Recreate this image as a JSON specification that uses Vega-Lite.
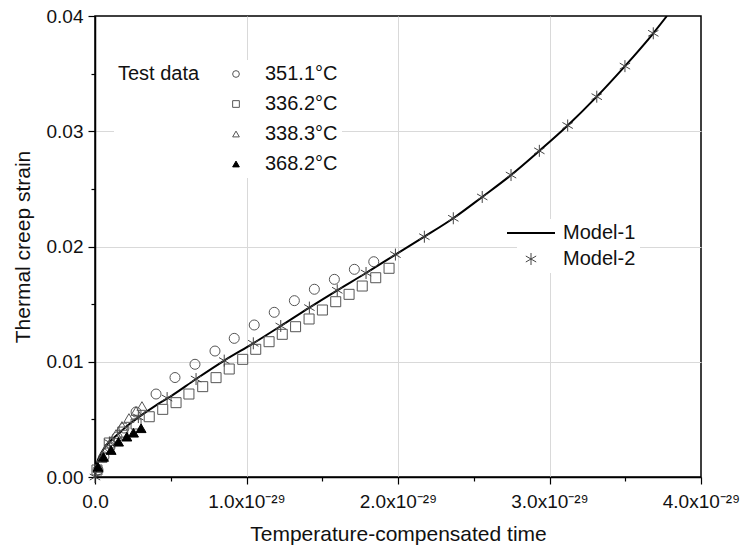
{
  "$schema": "https://vega.github.io/schema/vega-lite/v6.json",
  "width": 606,
  "height": 461,
  "autosize": {"type": "none"},
  "padding": {"left": 95, "top": 16, "right": 44, "bottom": 77},
  "background": "white",
  "config": {
    "font": "Liberation Sans",
    "view": {"stroke": "black", "strokeWidth": 1.5},
    "axis": {
      "domainColor": "black",
      "domainWidth": 1.5,
      "tickColor": "black",
      "tickWidth": 1.2,
      "labelFont": "Liberation Sans",
      "labelFontSize": 19,
      "labelColor": "#111",
      "titleFont": "Liberation Sans",
      "titleFontSize": 21,
      "titleFontWeight": "normal",
      "titleColor": "#111",
      "gridColor": "#d9d9d9",
      "gridWidth": 1,
      "labelFlush": false,
      "labelOverlap": false
    }
  },
  "datasets": {
    "model1": [
      {"x": 0, "y": 0},
      {"x": 0.005e-29, "y": 0.0007},
      {"x": 0.015e-29, "y": 0.0013},
      {"x": 0.03e-29, "y": 0.0018},
      {"x": 0.06e-29, "y": 0.0025},
      {"x": 0.1e-29, "y": 0.0031},
      {"x": 0.15e-29, "y": 0.0037},
      {"x": 0.2e-29, "y": 0.0043},
      {"x": 0.3e-29, "y": 0.0053},
      {"x": 0.4e-29, "y": 0.0062},
      {"x": 0.5e-29, "y": 0.0070},
      {"x": 0.667e-29, "y": 0.0085},
      {"x": 0.853e-29, "y": 0.0101},
      {"x": 1.045e-29, "y": 0.0116},
      {"x": 1.226e-29, "y": 0.0131},
      {"x": 1.415e-29, "y": 0.0147},
      {"x": 1.599e-29, "y": 0.0162},
      {"x": 1.789e-29, "y": 0.0177},
      {"x": 1.983e-29, "y": 0.0193},
      {"x": 2.174e-29, "y": 0.02085},
      {"x": 2.365e-29, "y": 0.02245},
      {"x": 2.556e-29, "y": 0.0243},
      {"x": 2.746e-29, "y": 0.0262},
      {"x": 2.933e-29, "y": 0.0283},
      {"x": 3.120e-29, "y": 0.0305},
      {"x": 3.312e-29, "y": 0.0330},
      {"x": 3.498e-29, "y": 0.03565},
      {"x": 3.685e-29, "y": 0.0385},
      {"x": 3.775e-29, "y": 0.0400}
    ],
    "model2": [
      {"model": "Model-2", "x": 0, "y": 0},
      {"model": "Model-2", "x": 0.095e-29, "y": 0.0030},
      {"model": "Model-2", "x": 0.286e-29, "y": 0.0052},
      {"model": "Model-2", "x": 0.476e-29, "y": 0.00685},
      {"model": "Model-2", "x": 0.667e-29, "y": 0.0085},
      {"model": "Model-2", "x": 0.853e-29, "y": 0.0101},
      {"model": "Model-2", "x": 1.045e-29, "y": 0.0116},
      {"model": "Model-2", "x": 1.226e-29, "y": 0.0131},
      {"model": "Model-2", "x": 1.415e-29, "y": 0.0147},
      {"model": "Model-2", "x": 1.599e-29, "y": 0.0162},
      {"model": "Model-2", "x": 1.789e-29, "y": 0.0177},
      {"model": "Model-2", "x": 1.983e-29, "y": 0.0193},
      {"model": "Model-2", "x": 2.174e-29, "y": 0.02085},
      {"model": "Model-2", "x": 2.365e-29, "y": 0.02245},
      {"model": "Model-2", "x": 2.556e-29, "y": 0.0243},
      {"model": "Model-2", "x": 2.746e-29, "y": 0.0262},
      {"model": "Model-2", "x": 2.933e-29, "y": 0.0283},
      {"model": "Model-2", "x": 3.120e-29, "y": 0.0305},
      {"model": "Model-2", "x": 3.312e-29, "y": 0.0330},
      {"model": "Model-2", "x": 3.498e-29, "y": 0.03565},
      {"model": "Model-2", "x": 3.685e-29, "y": 0.0385}
    ],
    "test": [
      {"series": "351.1°C", "x": 0.020e-29, "y": 0.00061},
      {"series": "351.1°C", "x": 0.059e-29, "y": 0.00174},
      {"series": "351.1°C", "x": 0.099e-29, "y": 0.00260},
      {"series": "351.1°C", "x": 0.145e-29, "y": 0.00347},
      {"series": "351.1°C", "x": 0.191e-29, "y": 0.00425},
      {"series": "351.1°C", "x": 0.271e-29, "y": 0.00564},
      {"series": "351.1°C", "x": 0.403e-29, "y": 0.00720},
      {"series": "351.1°C", "x": 0.528e-29, "y": 0.00863},
      {"series": "351.1°C", "x": 0.660e-29, "y": 0.00978},
      {"series": "351.1°C", "x": 0.792e-29, "y": 0.01093},
      {"series": "351.1°C", "x": 0.919e-29, "y": 0.01203},
      {"series": "351.1°C", "x": 1.051e-29, "y": 0.01319},
      {"series": "351.1°C", "x": 1.183e-29, "y": 0.01429},
      {"series": "351.1°C", "x": 1.316e-29, "y": 0.01530},
      {"series": "351.1°C", "x": 1.448e-29, "y": 0.01629},
      {"series": "351.1°C", "x": 1.580e-29, "y": 0.01715},
      {"series": "351.1°C", "x": 1.712e-29, "y": 0.01802},
      {"series": "351.1°C", "x": 1.840e-29, "y": 0.01868},
      {"series": "336.2°C", "x": 0.013e-29, "y": 0.00061},
      {"series": "336.2°C", "x": 0.094e-29, "y": 0.00295},
      {"series": "336.2°C", "x": 0.183e-29, "y": 0.00390},
      {"series": "336.2°C", "x": 0.271e-29, "y": 0.00460},
      {"series": "336.2°C", "x": 0.358e-29, "y": 0.00523},
      {"series": "336.2°C", "x": 0.447e-29, "y": 0.00587},
      {"series": "336.2°C", "x": 0.535e-29, "y": 0.00645},
      {"series": "336.2°C", "x": 0.620e-29, "y": 0.00720},
      {"series": "336.2°C", "x": 0.711e-29, "y": 0.00784},
      {"series": "336.2°C", "x": 0.799e-29, "y": 0.00862},
      {"series": "336.2°C", "x": 0.886e-29, "y": 0.00937},
      {"series": "336.2°C", "x": 0.975e-29, "y": 0.01021},
      {"series": "336.2°C", "x": 1.061e-29, "y": 0.01108},
      {"series": "336.2°C", "x": 1.149e-29, "y": 0.01174},
      {"series": "336.2°C", "x": 1.236e-29, "y": 0.01238},
      {"series": "336.2°C", "x": 1.324e-29, "y": 0.01304},
      {"series": "336.2°C", "x": 1.413e-29, "y": 0.01371},
      {"series": "336.2°C", "x": 1.501e-29, "y": 0.01449},
      {"series": "336.2°C", "x": 1.589e-29, "y": 0.01521},
      {"series": "336.2°C", "x": 1.677e-29, "y": 0.01585},
      {"series": "336.2°C", "x": 1.764e-29, "y": 0.01657},
      {"series": "336.2°C", "x": 1.853e-29, "y": 0.01729},
      {"series": "336.2°C", "x": 1.941e-29, "y": 0.01811},
      {"series": "338.3°C", "x": 0.020e-29, "y": 0.00078},
      {"series": "338.3°C", "x": 0.046e-29, "y": 0.00165},
      {"series": "338.3°C", "x": 0.073e-29, "y": 0.00243},
      {"series": "338.3°C", "x": 0.106e-29, "y": 0.00312},
      {"series": "338.3°C", "x": 0.139e-29, "y": 0.00373},
      {"series": "338.3°C", "x": 0.178e-29, "y": 0.00443},
      {"series": "338.3°C", "x": 0.224e-29, "y": 0.00512},
      {"series": "338.3°C", "x": 0.271e-29, "y": 0.00573},
      {"series": "338.3°C", "x": 0.310e-29, "y": 0.00616},
      {"series": "368.2°C", "x": 0.020e-29, "y": 0.00087},
      {"series": "368.2°C", "x": 0.056e-29, "y": 0.00174},
      {"series": "368.2°C", "x": 0.106e-29, "y": 0.00234},
      {"series": "368.2°C", "x": 0.155e-29, "y": 0.00306},
      {"series": "368.2°C", "x": 0.210e-29, "y": 0.00350},
      {"series": "368.2°C", "x": 0.254e-29, "y": 0.00384},
      {"series": "368.2°C", "x": 0.304e-29, "y": 0.00423}
    ]
  },
  "encoding": {
    "x": {
      "field": "x",
      "type": "quantitative",
      "scale": {"domain": [0, 4e-29], "nice": false, "zero": false},
      "axis": {
        "title": "Temperature-compensated time",
        "values": [0, 0.5e-29, 1e-29, 1.5e-29, 2e-29, 2.5e-29, 3e-29, 3.5e-29, 4e-29],
        "labelExpr": "round(datum.value*2e29) % 2 == 1 ? '' : (datum.value == 0 ? '0.0' : format(datum.value*1e29, '.1f') + 'x10⁻²⁹')",
        "tickSize": {"condition": {"test": "round(datum.value*2e29) % 2 == 1", "value": 4}, "value": 7},
        "grid": true,
        "gridOpacity": {"condition": {"test": "round(datum.value*2e29) % 2 == 1 || datum.value == 0 || datum.value > 3.9e-29", "value": 0}, "value": 1},
        "labelPadding": 8,
        "titlePadding": 12
      }
    },
    "y": {
      "field": "y",
      "type": "quantitative",
      "scale": {"domain": [0, 0.04], "nice": false},
      "axis": {
        "title": "Thermal creep strain",
        "values": [0, 0.005, 0.01, 0.015, 0.02, 0.025, 0.03, 0.035, 0.04],
        "labelExpr": "round(datum.value*200) % 2 == 1 ? '' : format(datum.value, '.2f')",
        "tickSize": {"condition": {"test": "round(datum.value*200) % 2 == 1", "value": 4}, "value": 7},
        "grid": true,
        "gridOpacity": {"condition": {"test": "round(datum.value*200) % 2 == 1 || datum.value == 0 || datum.value > 0.039", "value": 0}, "value": 1},
        "labelPadding": 5,
        "titlePadding": 13
      }
    }
  },
  "layer": [
    {
      "data": {"name": "model1"},
      "mark": {"type": "line", "color": "black", "strokeWidth": 2, "interpolate": "monotone", "clip": true}
    },
    {
      "data": {"name": "test"},
      "mark": {"type": "point", "filled": true, "opacity": 1, "size": 100, "strokeWidth": 1},
      "encoding": {
        "shape": {
          "field": "series", "type": "nominal",
          "scale": {"domain": ["351.1°C", "336.2°C", "338.3°C", "368.2°C"], "range": ["circle", "square", "triangle-up", "triangle-up"]},
          "legend": {"orient": "none", "legendX": 19, "legendY": 44, "title": "Test data", "titleOrient": "left", "titleAnchor": "start", "titleBaseline": "top", "titleFontSize": 20, "titleFontWeight": "normal", "titleColor": "#111", "titlePadding": 26, "labelFontSize": 20, "labelColor": "#111", "labelOffset": 19, "symbolSize": 45, "symbolStrokeWidth": 1, "rowPadding": 10, "fillColor": "white", "padding": 4}
        },
        "fill": {
          "field": "series", "type": "nominal",
          "scale": {"domain": ["351.1°C", "336.2°C", "338.3°C", "368.2°C"], "range": ["transparent", "transparent", "transparent", "black"]},
          "legend": {"orient": "none", "legendX": 19, "legendY": 44, "title": "Test data", "titleOrient": "left", "titleAnchor": "start", "titleBaseline": "top", "titleFontSize": 20, "titleFontWeight": "normal", "titleColor": "#111", "titlePadding": 26, "labelFontSize": 20, "labelColor": "#111", "labelOffset": 19, "symbolSize": 45, "symbolStrokeWidth": 1, "rowPadding": 10, "fillColor": "white", "padding": 4}
        },
        "stroke": {
          "field": "series", "type": "nominal",
          "scale": {"domain": ["351.1°C", "336.2°C", "338.3°C", "368.2°C"], "range": ["#555555", "#555555", "#555555", "black"]},
          "legend": {"orient": "none", "legendX": 19, "legendY": 44, "title": "Test data", "titleOrient": "left", "titleAnchor": "start", "titleBaseline": "top", "titleFontSize": 20, "titleFontWeight": "normal", "titleColor": "#111", "titlePadding": 26, "labelFontSize": 20, "labelColor": "#111", "labelOffset": 19, "symbolSize": 45, "symbolStrokeWidth": 1, "rowPadding": 10, "fillColor": "white", "padding": 4}
        }
      }
    },
    {
      "data": {"name": "model2"},
      "mark": {"type": "point", "filled": false, "opacity": 1, "size": 144},
      "encoding": {
        "shape": {
          "field": "model", "type": "nominal",
          "scale": {"domain": ["Model-1", "Model-2"], "range": ["M-4,0L4,0", "M0,-1L0,1M-0.866,-0.5L0.866,0.5M-0.866,0.5L0.866,-0.5"]},
          "legend": {"orient": "none", "legendX": 422, "legendY": 203, "title": null, "labelFontSize": 20, "labelColor": "#111", "labelOffset": 22, "symbolSize": 144, "rowPadding": 6, "fillColor": "white", "padding": 4}
        },
        "stroke": {
          "field": "model", "type": "nominal",
          "scale": {"domain": ["Model-1", "Model-2"], "range": ["black", "#444444"]},
          "legend": {"orient": "none", "legendX": 422, "legendY": 203, "title": null, "labelFontSize": 20, "labelColor": "#111", "labelOffset": 22, "symbolSize": 144, "rowPadding": 6, "fillColor": "white", "padding": 4}
        },
        "strokeWidth": {
          "field": "model", "type": "ordinal",
          "scale": {"domain": ["Model-1", "Model-2"], "range": [2, 1]},
          "legend": {"orient": "none", "legendX": 422, "legendY": 203, "title": null, "labelFontSize": 20, "labelColor": "#111", "labelOffset": 22, "symbolSize": 144, "rowPadding": 6, "fillColor": "white", "padding": 4}
        }
      }
    }
  ],
  "resolve": {"scale": {"shape": "independent", "stroke": "independent", "fill": "independent", "strokeWidth": "independent"}}
}
